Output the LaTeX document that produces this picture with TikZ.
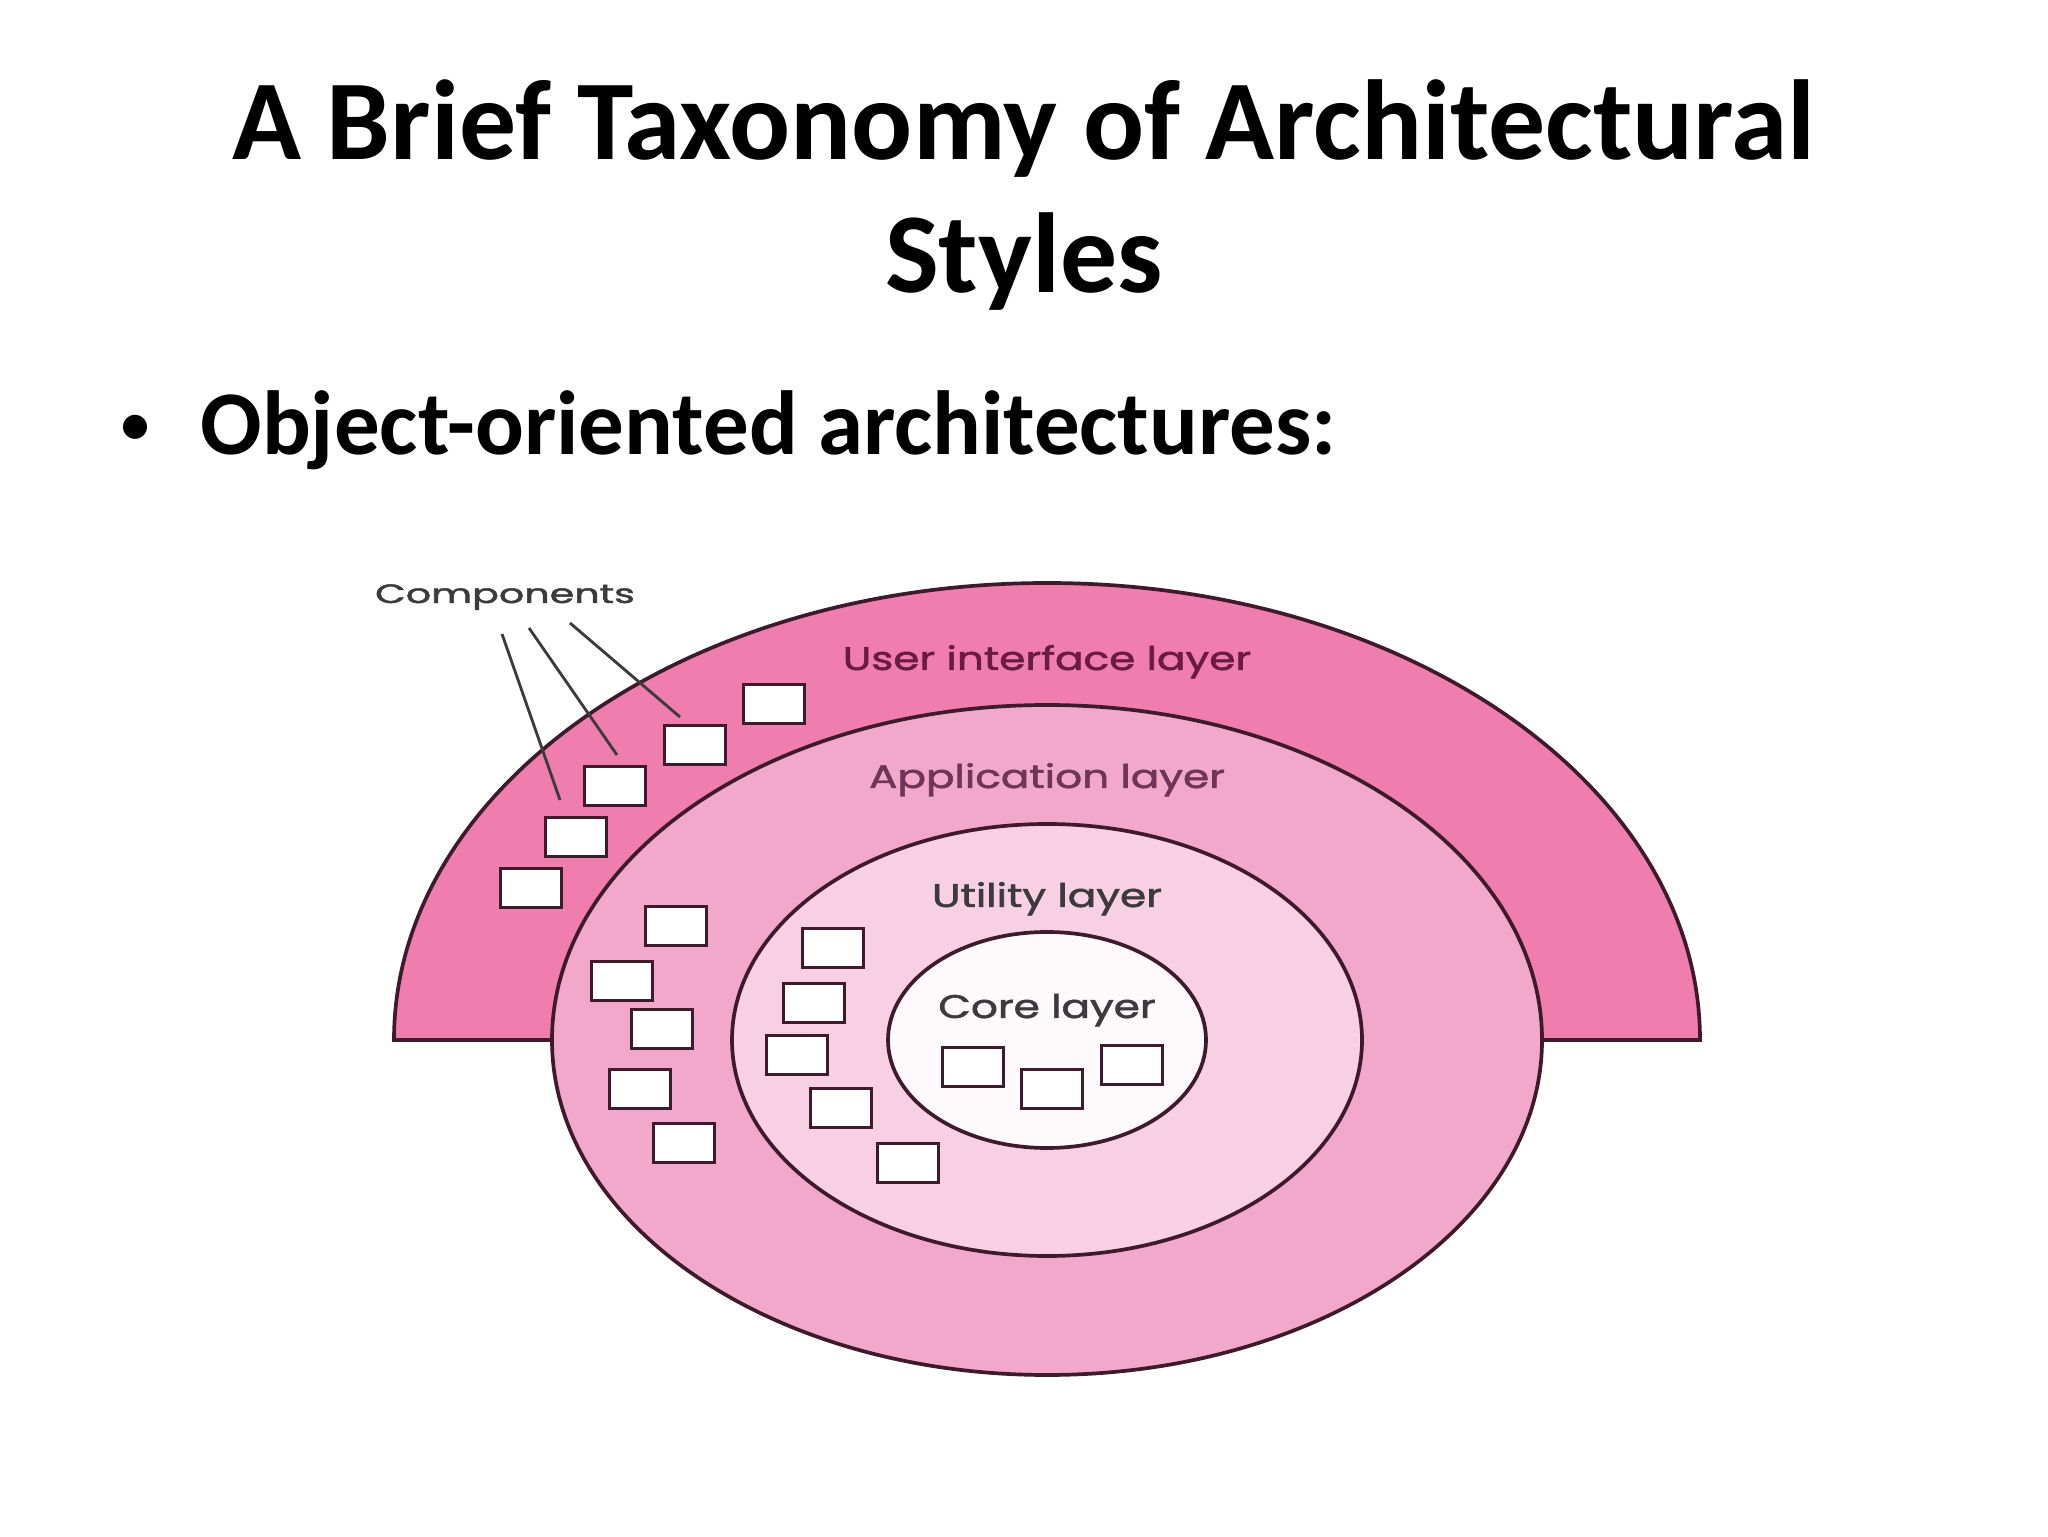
\documentclass[tikz,border=0pt]{standalone}
\usepackage{fontspec}
\setmainfont{Carlito}
\newfontfamily\labelfont[FakeBold=1.5]{Poppins}
\usepackage{tikz}
\usepackage{xcolor}
\usetikzlibrary{calc, positioning}

\definecolor{uipink}{HTML}{EF7EAE}
\definecolor{apppink}{HTML}{F2A8CA}
\definecolor{utilpink}{HTML}{F8D0E3}
\definecolor{corewhite}{HTML}{FEFAFC}
\definecolor{rimdark}{HTML}{3E1A2C}
\definecolor{uitext}{HTML}{6A1B42}
\definecolor{apptext}{HTML}{6E3556}
\definecolor{greytext}{HTML}{3C3A3C}

\tikzset{
    comp/.style = {draw=rimdark, fill=white, line width=1.2pt, minimum width=21.6pt, minimum height=13.6pt, inner sep=0pt},
    layerlabel/.style = {font=\labelfont\fontsize{11.5}{12}\selectfont, anchor=base, xscale=1.29, inner sep=0pt},
    complabel/.style = {font=\labelfont\fontsize{9.3}{11}\selectfont, text=greytext, anchor=base, xscale=1.5, inner sep=0pt},
    rim/.style = {draw=rimdark, line width=1.3pt},
    pointer/.style = {draw=greytext, line width=1pt},
}

\begin{document}
\begin{tikzpicture}[x=0.3516pt, y=0.3516pt]
    \useasboundingbox[fill=white] (0,0) rectangle (2048,1536);

    % heading
    \node[font=\bfseries\fontsize{40}{48}\selectfont, anchor=base] (title1) at (1024,1376) {A Brief Taxonomy of Architectural};
    \node[font=\bfseries\fontsize{40}{48}\selectfont, anchor=base] (title2) at (1024,1243) {Styles};
    \node[font=\fontsize{24}{28}\selectfont, anchor=center, inner sep=0pt] (bullet) at (135,1105) {\textbullet};
    \node[font=\bfseries\fontsize{32}{38}\selectfont, anchor=base west, inner sep=0pt] (oo) at (200,1081) {Object-oriented architectures:};

    % layers
    \filldraw[rim, fill=uipink] (394,496) arc[start angle=180, end angle=0, x radius=653, y radius=457] -- cycle;
    \filldraw[rim, fill=apppink] (1047,496) ellipse [x radius=495, y radius=335];
    \filldraw[rim, fill=utilpink] (1047,496) ellipse [x radius=315, y radius=216];
    \filldraw[rim, fill=corewhite] (1047,496) ellipse [x radius=159, y radius=108];

    \node[layerlabel, text=uitext] (ui) at (1047,866) {User interface layer};
    \node[layerlabel, text=apptext] (app) at (1047,748) {Application layer};
    \node[layerlabel, text=greytext] (util) at (1047,629) {Utility layer};
    \node[layerlabel, text=greytext] (core) at (1047,518) {Core layer};
    \node[complabel] (complbl) at (505,933) {Components};

    % components
    \foreach \n/\x/\y in {1/774/832, 2/695/791, 3/615/750, 4/576/699, 5/531/648,
                          6/676/610, 7/622/555, 8/662/507, 9/640/447, 10/684/393,
                          11/833/588, 12/814/533, 13/797/481, 14/841/428, 15/908/373,
                          16/973/469, 17/1052/447, 18/1132/471}{
        \node[comp] (b\n) at (\x,\y) {};
    }

    \coordinate (p1) at (502,902);
    \coordinate (p2) at (529,908);
    \coordinate (p3) at (570,913);
    \coordinate (q1) at (560,736);
    \coordinate (q2) at (617,781);
    \coordinate (q3) at (680,819);
    \draw[pointer] (p1) -- (q1);
    \draw[pointer] (p2) -- (q2);
    \draw[pointer] (p3) -- (q3);
\end{tikzpicture}
\end{document}
